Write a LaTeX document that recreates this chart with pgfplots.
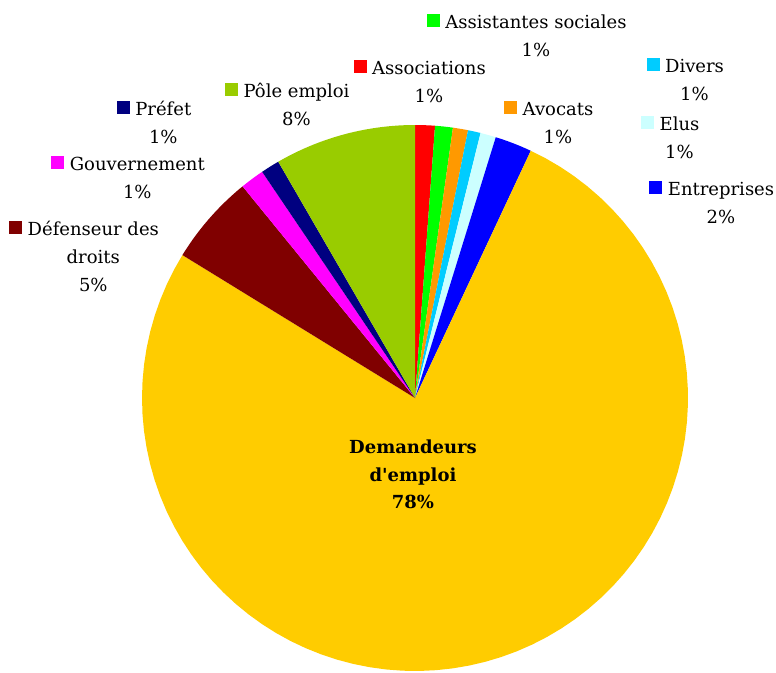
\documentclass[border=0pt]{standalone}
\usepackage{pgfplots}
\pgfplotsset{compat=1.18}
\usepackage{fontspec}
\setmainfont{DejaVu Serif}

\definecolor{cAssoc}{HTML}{FF0000}
\definecolor{cAssist}{HTML}{00FF00}
\definecolor{cAvoc}{HTML}{FF9900}
\definecolor{cDivers}{HTML}{00CCFF}
\definecolor{cElus}{HTML}{CCFFFF}
\definecolor{cEntr}{HTML}{0000FF}
\definecolor{cDem}{HTML}{FFCC00}
\definecolor{cDef}{HTML}{800000}
\definecolor{cGouv}{HTML}{FF00FF}
\definecolor{cPref}{HTML}{000080}
\definecolor{cPole}{HTML}{99CC00}

% slice from cumulative percent #2 to #3, clockwise from 12 o'clock
\newcommand\slice[3]{%
  \addplot[fill=#1, draw=none, domain=#2:#3, samples=80]
    ({415+273*sin(3.6*x)}, {398-273*cos(3.6*x)}) -- (axis cs:415,398) -- cycle;}

% label: x centre, first baseline, colour, name, percent
\newcommand\lab[5]{%
  \node[anchor=base, inner sep=0pt] (t) at (axis cs:#1,#2) {#4};
  \node[fill=#3, inner sep=0pt, minimum size=13pt, anchor=south east]
    at ([xshift=-5pt,yshift=1pt]t.base west) {};
  \node[anchor=base, inner sep=0pt] at (axis cs:#1,#2+28.5) {#5};}

\begin{document}
\begin{tikzpicture}[font=\fontsize{18}{21}\selectfont]
\begin{axis}[
    hide axis,
    scale only axis,
    width=776pt, height=672pt,
    xmin=0, xmax=776,
    ymin=0, ymax=672,
    y dir=reverse,
    clip=false,
  ]
% keep the page the size of the axis
\path (axis cs:0,0) rectangle (axis cs:776,672);

% shares in percent, cumulated
\slice{cAssoc}{0}{1.17}
\slice{cAssist}{1.17}{2.22}
\slice{cAvoc}{2.22}{3.11}
\slice{cDivers}{3.11}{3.86}
\slice{cElus}{3.86}{4.78}
\slice{cEntr}{4.78}{6.97}
\slice{cDem}{6.97}{83.77}
\slice{cDef}{83.77}{89.12}
\slice{cGouv}{89.12}{90.54}
\slice{cPref}{90.54}{91.65}
\slice{cPole}{91.65}{100}

\lab{536}{28}{cAssist}{Assistantes sociales}{1\%}
\lab{429}{74}{cAssoc}{Associations}{1\%}
\lab{694.5}{72}{cDivers}{Divers}{1\%}
\lab{558}{115}{cAvoc}{Avocats}{1\%}
\lab{679.5}{130}{cElus}{Elus}{1\%}
\lab{721}{195}{cEntr}{Entreprises}{2\%}
\lab{296.5}{97}{cPole}{Pôle emploi}{8\%}
\lab{163.3}{115}{cPref}{Préfet}{1\%}
\lab{137.3}{170}{cGouv}{Gouvernement}{1\%}
\lab{93.3}{235}{cDef}{Défenseur des}{droits}
\node[anchor=base, inner sep=0pt] at (axis cs:93.3,291) {5\%};

\node[anchor=base, inner sep=0pt, font=\fontsize{18}{21}\selectfont\bfseries] at (axis cs:413,453) {Demandeurs};
\node[anchor=base, inner sep=0pt, font=\fontsize{18}{21}\selectfont\bfseries] at (axis cs:413,481) {d\textquotesingle emploi};
\node[anchor=base, inner sep=0pt, font=\fontsize{18}{21}\selectfont\bfseries] at (axis cs:413,508) {78\%};
\end{axis}
\end{tikzpicture}
\end{document}
